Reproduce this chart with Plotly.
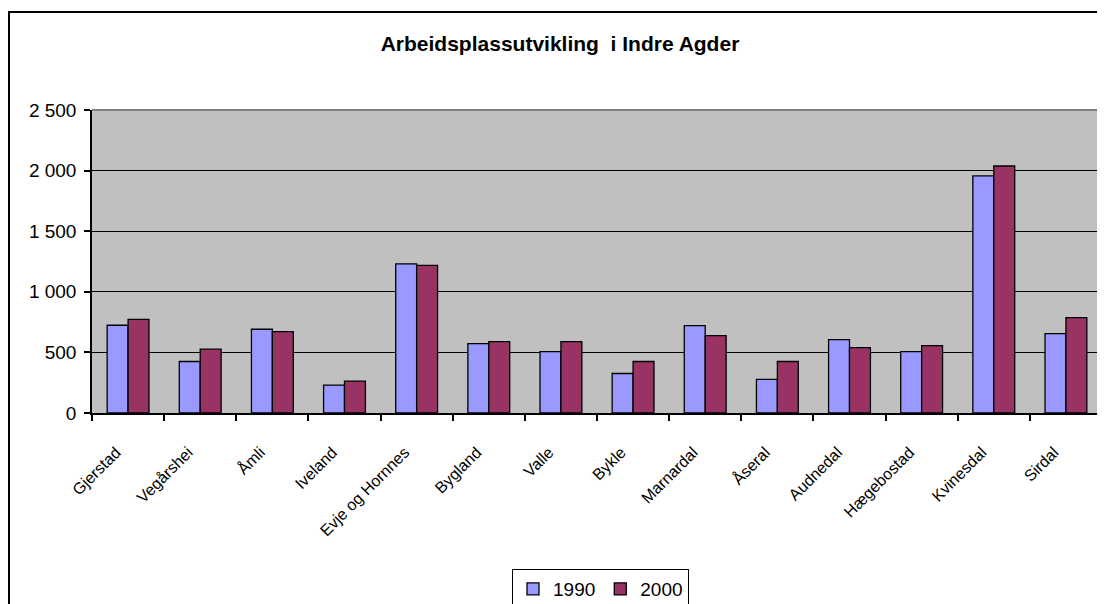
import plotly.graph_objects as go

categories = ["Gjerstad", "Vegårshei", "Åmli", "Iveland", "Evje og Hornnes", "Bygland",
              "Valle", "Bykle", "Marnardal", "Åseral", "Audnedal", "Hægebostad",
              "Kvinesdal", "Sirdal"]
values_1990 = [724, 425, 691, 230, 1231, 573, 507, 326, 721, 277, 606, 507, 1956, 655]
values_2000 = [773, 527, 672, 263, 1218, 589, 589, 425, 639, 425, 540, 556, 2038, 787]
y_ticks = [0, 500, 1000, 1500, 2000, 2500]

FONT = "Liberation Sans, Arial, sans-serif"

# the page body has an 8px margin; compensate so absolute positions match
OX, OY = 8, 8
W, H = 1105 - OX, 604 - OY
L, R, T, B = 92 - OX, 3, 110 - OY, 191
pw = W - L - R
ph = H - T - B

def px(x):
    return (x - OX - L) / pw

def py(y):
    return (H - B - (y - OY)) / ph

fig = go.Figure()
fig.add_trace(go.Bar(name="1990", x=categories, y=values_1990,
                     marker=dict(color="#9999FF", line=dict(color="black", width=1.3))))
fig.add_trace(go.Bar(name="2000", x=categories, y=values_2000,
                     marker=dict(color="#993366", line=dict(color="black", width=1.3))))

fig.update_layout(
    width=W, height=H,
    margin=dict(l=L, r=R, t=T, b=B, pad=0, autoexpand=False),
    paper_bgcolor="white",
    plot_bgcolor="#C0C0C0",
    separators=", ",
    font=dict(family=FONT, color="black", size=17),
    title=dict(text="<b>Arbeidsplassutvikling  i Indre Agder</b>",
               x=(560 - OX) / W, xanchor="center", y=1 - (44 - OY) / H, yanchor="middle",
               font=dict(family=FONT, size=21, color="black")),
    barmode="group", bargap=0.42, bargroupgap=0,
    showlegend=True,
    legend=dict(orientation="h", x=px(512), xanchor="left", y=py(569), yanchor="top",
                bordercolor="black", borderwidth=1, bgcolor="white",
                font=dict(family=FONT, size=19, color="black"),
                itemwidth=30, tracegroupgap=0),
    xaxis=dict(type="category", showline=True, linecolor="black", linewidth=1.5,
               ticks="outside", tickson="boundaries", ticklen=6, tickcolor="black",
               tickwidth=1.5, tickangle=-45, showgrid=False, automargin=False,
               ticklabelstandoff=22, ticklabelshift=-12,
               tickfont=dict(family=FONT, size=16, color="black")),
    yaxis=dict(range=[0, 2500], tickvals=y_ticks, tickformat=",d",
               showline=True, linecolor="black", linewidth=1.5,
               ticks="outside", ticklen=6, tickcolor="black", tickwidth=1.5,
               showgrid=True, gridcolor="black", gridwidth=1.2, zeroline=False,
               automargin=False, ticklabelstandoff=4,
               tickfont=dict(family=FONT, size=19, color="black")),
    shapes=[
        dict(type="line", xref="paper", yref="paper", x0=0, x1=1, y0=1, y1=1,
             line=dict(color="#808080", width=2), layer="above"),
        dict(type="line", xref="paper", yref="paper", x0=1, x1=1, y0=0, y1=1,
             line=dict(color="#808080", width=2), layer="above"),
        dict(type="rect", xref="paper", yref="paper",
             x0=px(9), x1=px(1115), y0=py(620), y1=py(12),
             line=dict(color="black", width=2), fillcolor="rgba(0,0,0,0)", layer="above"),
    ],
)

fig.write_html("out.html")
